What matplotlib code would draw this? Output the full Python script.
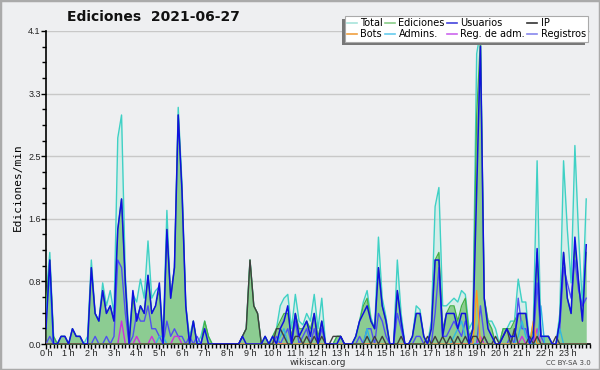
"""Ediciones por minuto, 2021-06-27 (wikiscan), en intervalos de 10 minutos."""

import numpy as np
import matplotlib

matplotlib.use("Agg")
import matplotlib.pyplot as plt
from matplotlib.lines import Line2D
from matplotlib.patches import Rectangle
from matplotlib.ticker import FixedLocator, MultipleLocator
from matplotlib.transforms import IdentityTransform

# 144 puntos = 24 h x 6 (cada 10 min), una fila por hora
TOTAL = [
    0.6, 1.2, 0.1, 0.0, 0.1, 0.1,
    0.0, 0.2, 0.1, 0.1, 0.0, 0.1,
    1.1, 0.4, 0.3, 0.8, 0.5, 0.7,
    0.4, 2.7, 3.0, 0.9, 0.1, 0.65,
    0.55, 0.85, 0.6, 1.35, 0.6, 0.7,
    0.75, 0.1, 1.75, 0.6, 1.0, 3.1,
    2.1, 0.5, 0.1, 0.3, 0.0, 0.1,
    0.3, 0.1, 0.0, 0.0, 0.0, 0.0,
    0.0, 0.0, 0.0, 0.0, 0.1, 0.2,
    1.1, 0.5, 0.4, 0.0, 0.1, 0.0,
    0.1, 0.2, 0.5, 0.6, 0.65, 0.2,
    0.65, 0.3, 0.25, 0.4, 0.3, 0.65,
    0.2, 0.6, 0.0, 0.0, 0.0, 0.1,
    0.1, 0.0, 0.0, 0.0, 0.1, 0.3,
    0.55, 0.7, 0.35, 0.2, 1.4, 0.6,
    0.35, 0.0, 0.0, 1.1, 0.4, 0.0,
    0.0, 0.1, 0.5, 0.45, 0.1, 0.0,
    0.3, 1.8, 2.05, 0.5, 0.5, 0.55,
    0.6, 0.55, 0.7, 0.65, 0.2, 0.3,
    3.8, 4.1, 0.6, 0.3, 0.3, 0.2,
    0.0, 0.2, 0.2, 0.3, 0.3, 0.85,
    0.55, 0.55, 0.0, 0.3, 2.4, 0.1,
    0.1, 0.1, 0.0, 0.0, 0.4, 2.4,
    1.5, 0.8, 2.6, 1.4, 0.5, 1.9,
]

EDICIONES = [
    0.5, 1.1, 0.1, 0.0, 0.1, 0.1,
    0.0, 0.2, 0.1, 0.1, 0.0, 0.0,
    1.0, 0.4, 0.3, 0.7, 0.4, 0.5,
    0.3, 1.5, 1.9, 0.8, 0.0, 0.6,
    0.3, 0.5, 0.4, 0.9, 0.4, 0.5,
    0.7, 0.0, 1.5, 0.6, 1.0, 3.0,
    2.0, 0.5, 0.0, 0.3, 0.0, 0.0,
    0.3, 0.1, 0.0, 0.0, 0.0, 0.0,
    0.0, 0.0, 0.0, 0.0, 0.1, 0.2,
    1.1, 0.5, 0.4, 0.0, 0.1, 0.0,
    0.1, 0.2, 0.3, 0.4, 0.4, 0.1,
    0.4, 0.2, 0.2, 0.3, 0.2, 0.4,
    0.1, 0.3, 0.0, 0.0, 0.0, 0.1,
    0.1, 0.0, 0.0, 0.0, 0.1, 0.3,
    0.5, 0.6, 0.3, 0.2, 1.0, 0.5,
    0.3, 0.0, 0.0, 0.7, 0.3, 0.0,
    0.0, 0.1, 0.4, 0.4, 0.1, 0.0,
    0.2, 1.1, 1.2, 0.2, 0.4, 0.5,
    0.5, 0.3, 0.5, 0.6, 0.1, 0.2,
    3.0, 4.0, 0.6, 0.3, 0.2, 0.0,
    0.0, 0.2, 0.2, 0.2, 0.3, 0.4,
    0.4, 0.4, 0.0, 0.2, 1.2, 0.1,
    0.1, 0.1, 0.0, 0.0, 0.3, 1.2,
    0.6, 0.4, 1.3, 0.8, 0.3, 1.2,
]

USUARIOS = [
    0.2, 1.1, 0.0, 0.0, 0.1, 0.1,
    0.0, 0.2, 0.1, 0.1, 0.0, 0.0,
    1.0, 0.4, 0.3, 0.7, 0.4, 0.5,
    0.3, 1.5, 1.9, 0.8, 0.0, 0.7,
    0.3, 0.5, 0.4, 0.9, 0.4, 0.5,
    0.8, 0.0, 1.5, 0.6, 1.0, 3.0,
    2.0, 0.5, 0.0, 0.3, 0.0, 0.0,
    0.2, 0.0, 0.0, 0.0, 0.0, 0.0,
    0.0, 0.0, 0.0, 0.0, 0.1, 0.0,
    0.0, 0.0, 0.0, 0.0, 0.1, 0.0,
    0.1, 0.0, 0.2, 0.3, 0.5, 0.0,
    0.4, 0.1, 0.2, 0.3, 0.1, 0.4,
    0.0, 0.3, 0.0, 0.0, 0.0, 0.0,
    0.1, 0.0, 0.0, 0.0, 0.1, 0.3,
    0.4, 0.5, 0.3, 0.2, 1.0, 0.5,
    0.3, 0.0, 0.0, 0.7, 0.3, 0.0,
    0.0, 0.1, 0.4, 0.4, 0.1, 0.0,
    0.2, 1.1, 1.1, 0.1, 0.4, 0.4,
    0.4, 0.2, 0.4, 0.4, 0.0, 0.2,
    2.0, 3.9, 0.6, 0.2, 0.1, 0.0,
    0.0, 0.1, 0.2, 0.1, 0.1, 0.4,
    0.4, 0.4, 0.0, 0.1, 1.25, 0.1,
    0.1, 0.1, 0.0, 0.0, 0.3, 1.2,
    0.6, 0.4, 1.4, 0.8, 0.3, 1.3,
]

IP = [
    0.0, 0.0, 0.0, 0.0, 0.0, 0.0,
    0.0, 0.0, 0.0, 0.0, 0.0, 0.0,
    0.0, 0.0, 0.0, 0.0, 0.0, 0.0,
    0.0, 0.0, 0.0, 0.0, 0.0, 0.0,
    0.0, 0.0, 0.0, 0.0, 0.0, 0.0,
    0.0, 0.0, 0.0, 0.0, 0.0, 0.0,
    0.0, 0.0, 0.0, 0.0, 0.0, 0.0,
    0.0, 0.0, 0.0, 0.0, 0.0, 0.0,
    0.0, 0.0, 0.0, 0.0, 0.1, 0.2,
    1.1, 0.5, 0.4, 0.0, 0.0, 0.0,
    0.0, 0.2, 0.2, 0.1, 0.0, 0.0,
    0.1, 0.1, 0.0, 0.1, 0.0, 0.1,
    0.0, 0.1, 0.0, 0.0, 0.1, 0.1,
    0.1, 0.0, 0.0, 0.0, 0.0, 0.0,
    0.0, 0.1, 0.0, 0.1, 0.0, 0.1,
    0.0, 0.0, 0.0, 0.0, 0.1, 0.0,
    0.0, 0.0, 0.0, 0.0, 0.0, 0.1,
    0.0, 0.1, 0.0, 0.1, 0.0, 0.1,
    0.0, 0.1, 0.0, 0.1, 0.0, 0.1,
    0.1, 0.0, 0.1, 0.0, 0.0, 0.1,
    0.0, 0.1, 0.2, 0.0, 0.2, 0.0,
    0.0, 0.0, 0.1, 0.0, 0.1, 0.0,
    0.0, 0.0, 0.0, 0.1, 0.0, 0.0,
    0.0, 0.0, 0.0, 0.0, 0.0, 0.0,
]

REGISTROS = [
    0.0, 0.1, 0.0, 0.0, 0.0, 0.0,
    0.0, 0.0, 0.0, 0.0, 0.0, 0.0,
    0.0, 0.1, 0.0, 0.0, 0.1, 0.0,
    0.1, 1.1, 1.0, 0.4, 0.0, 0.1,
    0.4, 0.3, 0.3, 0.5, 0.2, 0.2,
    0.1, 0.0, 0.3, 0.1, 0.2, 0.1,
    0.1, 0.0, 0.1, 0.0, 0.1, 0.0,
    0.0, 0.0, 0.0, 0.0, 0.0, 0.0,
    0.0, 0.0, 0.0, 0.0, 0.0, 0.0,
    0.0, 0.0, 0.0, 0.0, 0.0, 0.0,
    0.0, 0.1, 0.0, 0.1, 0.2, 0.0,
    0.3, 0.0, 0.1, 0.2, 0.0, 0.2,
    0.0, 0.2, 0.0, 0.0, 0.0, 0.0,
    0.0, 0.0, 0.0, 0.0, 0.0, 0.1,
    0.0, 0.2, 0.2, 0.0, 0.4, 0.3,
    0.1, 0.0, 0.0, 0.4, 0.2, 0.0,
    0.0, 0.0, 0.1, 0.1, 0.0, 0.0,
    0.0, 0.4, 1.0, 0.1, 0.1, 0.2,
    0.3, 0.2, 0.1, 0.3, 0.1, 0.0,
    0.0, 0.5, 0.1, 0.0, 0.0, 0.0,
    0.0, 0.0, 0.0, 0.1, 0.0, 0.6,
    0.2, 0.2, 0.0, 0.0, 0.8, 0.1,
    0.0, 0.0, 0.0, 0.0, 0.2, 1.0,
    0.8, 0.6, 1.1, 0.7, 0.5, 0.6,
]

ADMINS = [0.0] * 144
for i, v in {0: 0.4, 1: 0.9, 30: 0.1, 31: 0.1, 62: 0.1, 63: 0.2, 85: 0.2,
             108: 0.1, 109: 0.2, 110: 0.3, 111: 0.1, 125: 0.1, 126: 0.3,
             127: 0.1, 131: 0.5, 136: 0.2}.items():
    ADMINS[i] = v

REG_ADM = [0.0] * 144
for i, v in {20: 0.3, 24: 0.1, 28: 0.1, 34: 0.1, 35: 0.1, 115: 0.1,
             126: 0.1, 130: 0.2}.items():
    REG_ADM[i] = v

BOTS = [0.0] * 144
for i, v in {114: 0.7, 129: 0.3}.items():
    BOTS[i] = v

HOUR_LABELS = [f"{h} h" for h in range(24)]
Y_TICKS = [0.0, 0.82, 1.64, 2.46, 3.28, 4.1]
Y_LABELS = ["0.0", "0.8", "1.6", "2.5", "3.3", "4.1"]

BG = "#eeeff1"


def main() -> None:
    t = np.arange(144) / 6.0  # hours

    fig = plt.figure(figsize=(6.0, 3.7), dpi=100, facecolor=BG)
    ax = fig.add_axes([46 / 600, 1 - 344 / 370, 544 / 600, 313 / 370])
    ax.set_facecolor(BG)

    # areas
    ax.fill_between(t, TOTAL, color="#c5ece4", alpha=0.6, lw=0, zorder=1)
    ax.plot(t, TOTAL, color="#3fd1c5", lw=1.0, zorder=2)
    ax.fill_between(t, EDICIONES, color="#6ebf6e", alpha=0.7, lw=0, zorder=3)
    ax.plot(t, EDICIONES, color="#45b045", lw=0.9, zorder=3)

    # lines
    ax.plot(t, REGISTROS, color="#5050f0", lw=1.0, zorder=4)
    ax.plot(t, REG_ADM, color="#cc33dd", lw=1.0, zorder=4)
    ax.plot(t, ADMINS, color="#30b8e0", lw=1.0, zorder=4)
    ax.plot(t, BOTS, color="#ff9922", lw=1.0, zorder=4)
    ax.plot(t, IP, color="#404040", lw=1.0, zorder=5)
    ax.plot(t, USUARIOS, color="#1010e0", lw=1.1, zorder=6)

    ax.set_xlim(0, 24)
    ax.set_ylim(0, 4.1)

    ax.xaxis.set_major_locator(FixedLocator(range(24)))
    ax.set_xticklabels(HOUR_LABELS, family="Liberation Sans", fontsize=6.5)
    ax.xaxis.set_minor_locator(MultipleLocator(1 / 6))
    ax.yaxis.set_major_locator(FixedLocator(Y_TICKS))
    ax.set_yticklabels(Y_LABELS, family="Liberation Sans", fontsize=6.5)
    ax.yaxis.set_minor_locator(MultipleLocator(4.1 / 20))
    ax.tick_params(axis="both", which="major", length=3.5, width=1,
                   pad=0.3, colors="black", labelcolor="#222")
    ax.tick_params(axis="both", which="minor", length=3, width=1)

    ax.grid(axis="y", color="#c8c8c8", lw=1.0)
    ax.set_axisbelow(True)
    for side in ("top", "right"):
        ax.spines[side].set_visible(False)
    for side in ("left", "bottom"):
        ax.spines[side].set_linewidth(1.2)

    ax.set_ylabel("Ediciones/min", family="DejaVu Sans Mono", fontsize=8,
                  labelpad=4)

    fig.text(0.255, 0.955, "Ediciones  2021-06-27", fontsize=10,
             fontweight="bold", ha="center", va="center", color="#111")
    fig.text(0.53, 0.007, "wikiscan.org", fontsize=6.5, ha="center",
             va="bottom", color="#333")
    fig.text(0.985, 0.01, "CC BY-SA 3.0", fontsize=5, ha="right",
             va="bottom", color="#444")

    handles = [
        Line2D([], [], color="#a8e4dc", lw=1.2, label="Total"),
        Line2D([], [], color="#f0a040", lw=1.2, label="Bots"),
        Line2D([], [], color="#88cc88", lw=1.2, label="Ediciones"),
        Line2D([], [], color="#66ccee", lw=1.2, label="Admins."),
        Line2D([], [], color="#4444dd", lw=1.2, label="Usuarios"),
        Line2D([], [], color="#cc66ee", lw=1.2, label="Reg. de adm."),
        Line2D([], [], color="#333333", lw=1.2, label="IP"),
        Line2D([], [], color="#8888ee", lw=1.2, label="Registros"),
    ]
    leg = fig.legend(handles=handles, ncol=4, loc="upper right",
                     bbox_to_anchor=(593 / 600, 1 - 11 / 370), fontsize=7,
                     handlelength=1.0, handletextpad=0.35, columnspacing=0.25,
                     labelspacing=0.1, borderpad=0.25, frameon=True,
                     fancybox=False, framealpha=1)
    leg.get_frame().set_facecolor("white")
    leg.get_frame().set_edgecolor("#aaaaaa")
    leg.get_frame().set_linewidth(0.8)
    leg.set_zorder(10)

    # shadow to the lower left of the legend box
    fig.canvas.draw()
    bb = leg.get_window_extent()
    shadow = Rectangle((bb.x0 - 3, bb.y0 - 3), bb.width, bb.height,
                       transform=IdentityTransform(), facecolor="#777777",
                       edgecolor="none", zorder=9)
    fig.patches.append(shadow)

    fig.patches.append(Rectangle((0, 0), 1, 1, transform=fig.transFigure,
                                 fill=False, edgecolor="#aaaaaa", lw=2.5))

    fig.savefig("out.png", dpi=100, facecolor=BG)


if __name__ == "__main__":
    main()
